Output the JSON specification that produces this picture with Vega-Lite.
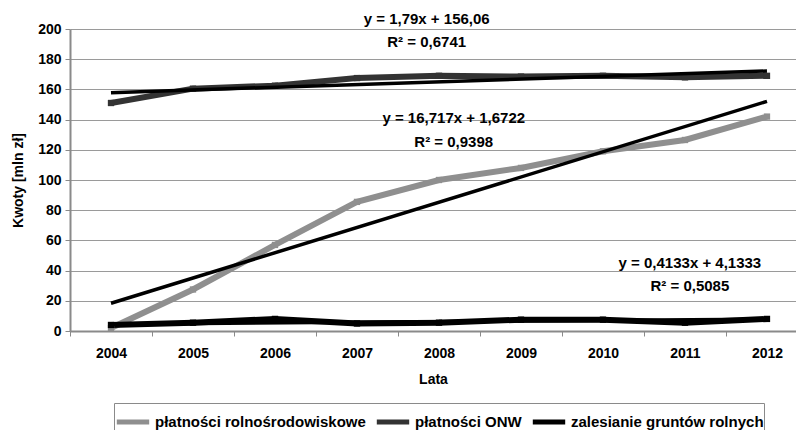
{
  "$schema": "https://vega.github.io/schema/vega-lite/v6.json",
  "width": 726,
  "height": 302,
  "autosize": {"type": "none"},
  "padding": {"left": 70, "top": 29, "right": 0, "bottom": 99},
  "background": "white",
  "config": {
    "font": "Liberation Sans",
    "view": {"stroke": null},
    "axis": {
      "labelFont": "Liberation Sans",
      "labelFontSize": 14,
      "labelFontWeight": "bold",
      "labelColor": "#000000",
      "labelOverlap": false,
      "titleFont": "Liberation Sans",
      "titleFontSize": 14,
      "titleFontWeight": "bold",
      "titleColor": "#000000",
      "domainColor": "#8a8a8a",
      "domainWidth": 2,
      "tickColor": "#8a8a8a",
      "tickWidth": 1,
      "tickSize": 5,
      "gridColor": "#9a9a9a",
      "gridWidth": 1
    },
    "legend": {
      "orient": "none",
      "legendX": 44,
      "legendY": 374,
      "direction": "horizontal",
      "strokeColor": "#8a8a8a",
      "fillColor": "white",
      "padding": 0,
      "symbolType": "stroke",
      "symbolStrokeWidth": 5,
      "symbolSize": 1050,
      "labelFont": "Liberation Sans",
      "labelFontSize": 15,
      "labelFontWeight": "bold",
      "labelColor": "#000000",
      "labelLimit": 0,
      "labelOffset": 3,
      "columnPadding": 0,
      "title": null
    }
  },
  "datasets": {
    "series": [
      {"year": 2004, "value": 2, "series": "płatności rolnośrodowiskowe"},
      {"year": 2005, "value": 27.5, "series": "płatności rolnośrodowiskowe"},
      {"year": 2006, "value": 57, "series": "płatności rolnośrodowiskowe"},
      {"year": 2007, "value": 85.5, "series": "płatności rolnośrodowiskowe"},
      {"year": 2008, "value": 100, "series": "płatności rolnośrodowiskowe"},
      {"year": 2009, "value": 108, "series": "płatności rolnośrodowiskowe"},
      {"year": 2010, "value": 119, "series": "płatności rolnośrodowiskowe"},
      {"year": 2011, "value": 126.5, "series": "płatności rolnośrodowiskowe"},
      {"year": 2012, "value": 142, "series": "płatności rolnośrodowiskowe"},
      {"year": 2004, "value": 151, "series": "płatności ONW"},
      {"year": 2005, "value": 160.5, "series": "płatności ONW"},
      {"year": 2006, "value": 162.5, "series": "płatności ONW"},
      {"year": 2007, "value": 167.5, "series": "płatności ONW"},
      {"year": 2008, "value": 169, "series": "płatności ONW"},
      {"year": 2009, "value": 168.5, "series": "płatności ONW"},
      {"year": 2010, "value": 169, "series": "płatności ONW"},
      {"year": 2011, "value": 168, "series": "płatności ONW"},
      {"year": 2012, "value": 169, "series": "płatności ONW"},
      {"year": 2004, "value": 4, "series": "zalesianie gruntów rolnych"},
      {"year": 2005, "value": 5.5, "series": "zalesianie gruntów rolnych"},
      {"year": 2006, "value": 8, "series": "zalesianie gruntów rolnych"},
      {"year": 2007, "value": 5, "series": "zalesianie gruntów rolnych"},
      {"year": 2008, "value": 5.5, "series": "zalesianie gruntów rolnych"},
      {"year": 2009, "value": 7.5, "series": "zalesianie gruntów rolnych"},
      {"year": 2010, "value": 7.5, "series": "zalesianie gruntów rolnych"},
      {"year": 2011, "value": 5.5, "series": "zalesianie gruntów rolnych"},
      {"year": 2012, "value": 8, "series": "zalesianie gruntów rolnych"}
    ],
    "trends": [
      {"year": 2004, "value": 18.39, "trend": "rolno"},
      {"year": 2012, "value": 152.12, "trend": "rolno"},
      {"year": 2004, "value": 157.85, "trend": "onw"},
      {"year": 2012, "value": 172.17, "trend": "onw"},
      {"year": 2004, "value": 4.55, "trend": "zal"},
      {"year": 2012, "value": 7.85, "trend": "zal"}
    ],
    "labels": [
      {"year": 2007.85, "value": 206.6, "text": "y = 1,79x + 156,06"},
      {"year": 2007.85, "value": 191.4, "text": "R² = 0,6741"},
      {"year": 2008.18, "value": 141, "text": "y = 16,717x + 1,6722"},
      {"year": 2008.18, "value": 125.2, "text": "R² = 0,9398"},
      {"year": 2011.06, "value": 45, "text": "y = 0,4133x + 4,1333"},
      {"year": 2011.06, "value": 29.8, "text": "R² = 0,5085"}
    ]
  },
  "encoding": {
    "x": {
      "field": "year",
      "type": "quantitative",
      "scale": {"domain": [2003.5, 2012.354], "nice": false, "zero": false},
      "axis": {
        "values": [2003.5, 2004, 2004.5, 2005, 2005.5, 2006, 2006.5, 2007, 2007.5, 2008, 2008.5, 2009, 2009.5, 2010, 2010.5, 2011, 2011.5, 2012],
        "labelExpr": "datum.value % 1 === 0 ? format(datum.value, 'd') : ''",
        "labelOverlap": false,
        "labelPadding": 10,
        "tickOpacity": {"condition": {"test": "datum.value % 1 === 0", "value": 0}, "value": 1},
        "grid": false,
        "title": "Lata",
        "titlePadding": 12
      }
    },
    "y": {
      "field": "value",
      "type": "quantitative",
      "scale": {"domain": [0, 200], "nice": false},
      "axis": {
        "values": [0, 20, 40, 60, 80, 100, 120, 140, 160, 180, 200],
        "labelOverlap": false,
        "grid": true,
        "labelPadding": 4,
        "title": "Kwoty [mln zł]",
        "titlePadding": 12
      }
    }
  },
  "layer": [
    {
      "data": {"name": "series"},
      "mark": {"type": "line", "strokeWidth": 6, "clip": false, "point": {"shape": "square", "filled": true, "size": 40}},
      "encoding": {
        "color": {
          "field": "series",
          "type": "nominal",
          "scale": {
            "domain": ["płatności rolnośrodowiskowe", "płatności ONW", "zalesianie gruntów rolnych"],
            "range": ["#8f8f8f", "#333333", "#000000"]
          }
        }
      }
    },
    {
      "data": {"name": "trends"},
      "mark": {"type": "line", "strokeWidth": 3.5, "color": "#000000", "clip": false},
      "encoding": {
        "detail": {"field": "trend", "type": "nominal"}
      }
    },
    {
      "data": {"name": "labels"},
      "mark": {"type": "text", "font": "Liberation Sans", "fontSize": 15, "fontWeight": "bold", "color": "#000000", "align": "center", "baseline": "middle", "clip": false},
      "encoding": {
        "text": {"field": "text"}
      }
    }
  ]
}
